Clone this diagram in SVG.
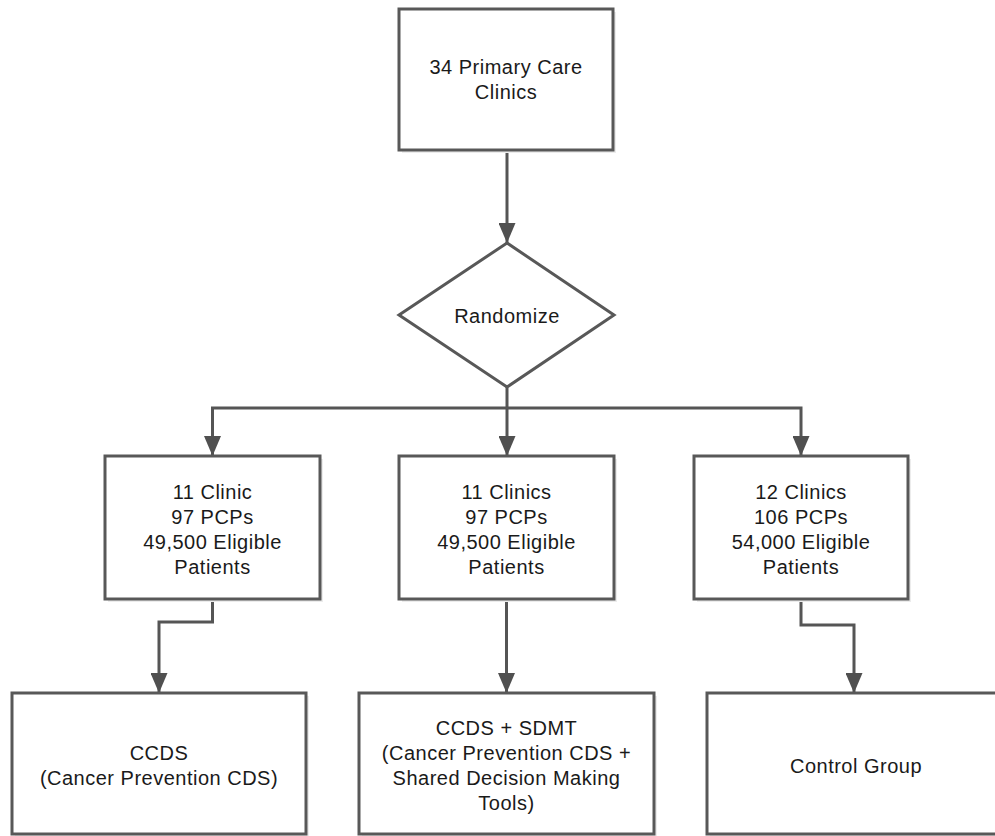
<svg xmlns="http://www.w3.org/2000/svg" width="995" height="836" viewBox="0 0 995 836">
<style>
  .box { fill: #ffffff; stroke: #585858; stroke-width: 3; }
  .shadow { fill: #ececec; stroke: none; }
  .edge { fill: none; stroke: #555555; stroke-width: 3; }
  .lbl { font-family: "Liberation Sans", Arial, sans-serif; font-size: 20px; letter-spacing: 0.5px; fill: #1a1a1a; text-anchor: middle; }
</style>
<defs>
  <marker id="arrow" viewBox="0 0 20 17" refX="20" refY="8.5" markerWidth="20" markerHeight="17" markerUnits="userSpaceOnUse" orient="auto">
    <path d="M0,0 L20,8.5 L0,17 Z" fill="#505050"/>
  </marker>
</defs>
<rect width="995" height="836" fill="#ffffff"/>

<g id="connectors">
  <path class="edge" d="M507,150 V243" marker-end="url(#arrow)"/>
  <path class="edge" d="M507,387 V456" marker-end="url(#arrow)"/>
  <path class="edge" d="M507,408 H212.5 V456" marker-end="url(#arrow)"/>
  <path class="edge" d="M507,408 H801 V456" marker-end="url(#arrow)"/>
  <path class="edge" d="M212.5,599 V622 H159 V693" marker-end="url(#arrow)"/>
  <path class="edge" d="M506.5,599 V693" marker-end="url(#arrow)"/>
  <path class="edge" d="M801,599 V625 H854 V693" marker-end="url(#arrow)"/>
</g>

<g id="clinics">
  <rect class="shadow" x="402" y="12" width="214" height="141"/>
  <rect class="box" x="399" y="9" width="214" height="141"/>
  <text class="lbl" x="506" y="74">34 Primary Care</text>
  <text class="lbl" x="506" y="99">Clinics</text>
</g>

<g id="randomize">
  <polygon class="box" points="507,243 614,315 507,387 399,315"/>
  <text class="lbl" x="507" y="323">Randomize</text>
</g>

<g id="arm1">
  <rect class="shadow" x="108" y="459" width="215" height="143"/>
  <rect class="box" x="105" y="456" width="215" height="143"/>
  <text class="lbl" x="212.5" y="499">11 Clinic</text>
  <text class="lbl" x="212.5" y="524">97 PCPs</text>
  <text class="lbl" x="212.5" y="549">49,500 Eligible</text>
  <text class="lbl" x="212.5" y="574">Patients</text>
</g>

<g id="arm2">
  <rect class="shadow" x="402" y="459" width="215" height="143"/>
  <rect class="box" x="399" y="456" width="215" height="143"/>
  <text class="lbl" x="506.5" y="499">11 Clinics</text>
  <text class="lbl" x="506.5" y="524">97 PCPs</text>
  <text class="lbl" x="506.5" y="549">49,500 Eligible</text>
  <text class="lbl" x="506.5" y="574">Patients</text>
</g>

<g id="arm3">
  <rect class="shadow" x="697" y="459" width="214" height="143"/>
  <rect class="box" x="694" y="456" width="214" height="143"/>
  <text class="lbl" x="801" y="499">12 Clinics</text>
  <text class="lbl" x="801" y="524">106 PCPs</text>
  <text class="lbl" x="801" y="549">54,000 Eligible</text>
  <text class="lbl" x="801" y="574">Patients</text>
</g>

<g id="ccds">
  <rect class="shadow" x="15" y="696" width="294" height="141"/>
  <rect class="box" x="12" y="693" width="294" height="141"/>
  <text class="lbl" x="159" y="760">CCDS</text>
  <text class="lbl" x="159" y="785">(Cancer Prevention CDS)</text>
</g>

<g id="ccds_sdmt">
  <rect class="shadow" x="362" y="696" width="295" height="141"/>
  <rect class="box" x="359" y="693" width="295" height="141"/>
  <text class="lbl" x="506.5" y="735">CCDS + SDMT</text>
  <text class="lbl" x="506.5" y="760">(Cancer Prevention CDS +</text>
  <text class="lbl" x="506.5" y="785">Shared Decision Making</text>
  <text class="lbl" x="506.5" y="810">Tools)</text>
</g>

<g id="control">
  <rect class="shadow" x="710" y="696" width="298" height="141"/>
  <rect class="box" x="707" y="693" width="298" height="141"/>
  <text class="lbl" x="856" y="773">Control Group</text>
</g>
</svg>
